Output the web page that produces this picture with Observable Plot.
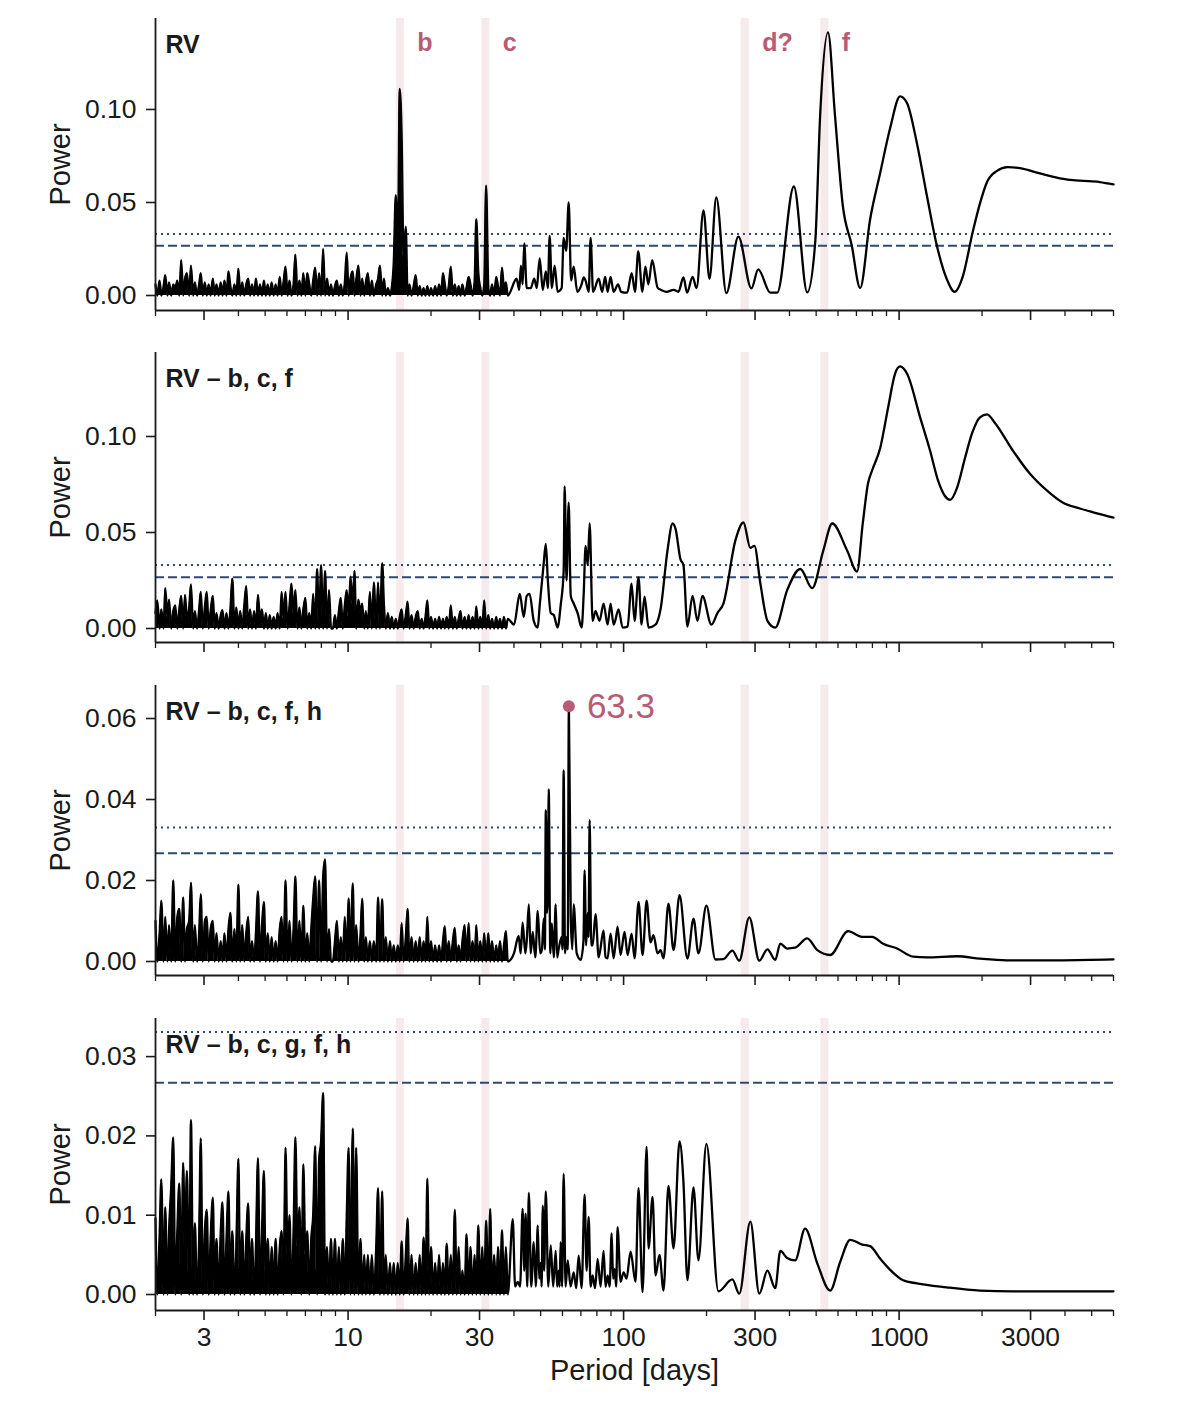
<!DOCTYPE html>
<html><head><meta charset="utf-8">
<script src="https://cdn.jsdelivr.net/npm/d3@7"></script>
<script src="https://cdn.jsdelivr.net/npm/@observablehq/plot@0.6"></script>
<style>
body{margin:0;background:#fff;}
#chart svg{display:block;}
</style></head><body><div id="chart"></div>
<script>
// ---------- DATA ----------
// shared period grid (days) for the dense short-period part of every periodogram
const noisePeriods = [
 2.00,2.03,2.07,2.10,2.14,2.17,2.21,2.24,2.28,2.32,
 2.36,2.40,2.44,2.48,2.52,2.56,2.60,2.65,2.69,2.74,
 2.78,2.83,2.88,2.92,2.97,3.02,3.07,3.12,3.17,3.23,
 3.28,3.33,3.39,3.45,3.50,3.56,3.62,3.68,3.74,3.80,
 3.87,3.93,4.00,4.06,4.13,4.20,4.27,4.34,4.41,4.48,
 4.56,4.63,4.71,4.79,4.87,4.95,5.03,5.11,5.20,5.28,
 5.37,5.46,5.55,5.65,5.74,5.83,5.93,6.03,6.13,6.23,
 6.34,6.44,6.55,6.66,6.77,6.88,7.00,7.11,7.23,7.35,
 7.47,7.60,7.72,7.85,7.98,8.12,8.25,8.39,8.53,8.67,
 8.81,8.96,9.11,9.26,9.41,9.57,9.73,9.89,10.05,10.2,
 10.4,10.55,10.7,10.9,11.1,11.25,11.45,11.6,11.8,12.0,
 12.2,12.4,12.65,12.85,13.05,13.3,13.5,13.7,13.95,14.2,
 14.4,14.65,14.9,15.15,15.4,15.65,15.9,16.2,16.45,16.7,
 17.0,17.3,17.6,17.9,18.2,18.5,18.8,19.1,19.4,19.7,
 20.0,20.35,20.7,21.05,21.4,21.75,22.1,22.45,22.8,23.2,
 23.6,24.0,24.4,24.8,25.2,25.6,26.0,26.5,26.9,27.4,
 27.8,28.3,28.8,29.2,29.7,30.2,30.7,31.2,31.7,32.3,
 32.8,33.3,33.9,34.5,35.0,35.6,36.2,36.8,37.4,38.0
];

// Panel 1: RV
const rvNoise = [
 .006,0,.008,0,.005,.011,0,.007,0,.006,
 .004,.008,0,.019,0,.009,.012,0,.016,0,
 .007,0,.006,.012,0,.007,0,.006,0,.009,
 0,.006,0,.007,0,.008,0,.013,.005,0,
 .006,0,.0145,0,.007,0,.006,.009,0,.006,
 0,.009,0,.006,0,.008,0,.006,0,.007,
 0,.006,0,.010,0,.007,.0155,0,.008,0,
 .006,.022,0,.008,0,.012,0,.012,.006,0,
 .008,.015,0,.012,0,.025,0,.009,0,.006,
 0,.005,.008,0,.006,0,.007,.023,0,.009,
 .013,0,.008,.016,0,.009,0,.007,.012,0,
 .008,0,.006,.009,.016,0,.009,0,.004,0,
 .004,.018,.054,.020,.111,.085,.020,.037,0,.006,
 0,.005,.011,0,.005,0,.004,0,.005,0,
 .004,0,.005,0,.006,0,.012,.006,0,.005,
 .0155,0,.006,0,.005,0,.006,0,.004,.010,
 .006,0,.008,.041,.012,.004,0,.006,.059,.004,
 0,.006,0,.010,.005,0,.015,.004,.007,0
];
const rvTail = [
 [40.9,.009],[41.8,.003],[42.4,.016],[43.0,.006],[43.6,.028],[44.5,.004],[46.0,.004],[47.4,.009],
 [48.4,.004],[49.6,.020],[50.9,.003],[52.2,.013],[53.1,.004],[53.9,.032],[54.9,.004],[56.2,.016],
 [57.6,.002],[59.6,.004],[60.6,.031],[61.9,.024],[63.2,.050],[64.5,.008],[65.9,.0155],[67.9,.002],
 [70.4,.006],[71.6,.0097],[72.8,.008],[74.7,.002],[75.9,.031],[77.5,.002],[81.2,.009],[83.6,.002],
 [85.7,.010],[87.5,.002],[89.7,.010],[92.0,.002],[95.5,.006],[97.9,.002],[103,.0015],[107,.012],
 [110,.002],[113,.0237],[117,.002],[120,.0155],[123,.006],[127,.019],[133,.004],[137,.003],
 [143,.002],[152,.003],[158,.002],[165,.0097],[170,.0015],[178,.010],[184,.004],[195,.0457],
 [205,.009],[217,.0527],[236,.0013],[261,.0317],[291,.0038],[308,.014],[341,.0015],[361,.0015],
 [415,.0586],[464,.0017],[496,.0285],[517,.097],[552,.1414],[585,.097],[625,.048],[673,.027],
 [722,.004],[785,.041],[854,.066],[928,.090],[1008,.107],[1068,.1035],[1160,.082],[1260,.054],
 [1370,.027],[1488,.009],[1591,.002],[1701,.010],[1849,.034],[1966,.0495],[2085,.061],[2265,.067],
 [2473,.069],[2745,.0685],[3243,.0656],[3831,.063],[4527,.0617],[5348,.061],[6000,.0597]
];

// Panel 2: RV - b, c, f
const bcfNoise = [
 .008,.0146,0,.010,0,.021,.006,.015,0,.009,
 .012,0,.010,.017,0,.0175,.005,.011,.023,0,
 .009,0,.010,.019,0,.011,.019,0,.009,.017,
 0,.008,0,.007,.0095,0,.008,0,.010,.026,
 0,.011,0,.009,0,.012,.022,0,.010,0,
 .009,0,.0175,.005,.010,0,.008,0,.007,0,
 .006,0,.008,0,.019,.005,.019,0,.012,.0234,
 .008,.020,0,.011,0,.010,.016,0,.008,0,
 .018,0,.031,0,.033,0,.030,0,.020,0,
 0,.007,0,.009,.016,0,.012,.020,.006,.027,
 .012,.030,0,.015,.008,.013,0,.009,0,.019,
 0,.024,0,.024,0,.034,.012,0,.008,0,
 .006,0,.005,0,.006,.010,0,.007,.014,0,
 .007,0,.006,.009,0,.005,0,.006,.0146,0,
 .006,0,.005,0,.006,0,.005,0,.006,0,
 .012,0,.006,0,.005,.009,0,.006,0,.007,
 0,.006,0,.0115,0,.006,0,.0146,0,.007,
 0,.005,0,.006,0,.005,0,.006,0,.005
];
const bcfTail = [
 [40.0,.002],[42.0,.018],[43.4,.006],[44.5,.017],[45.6,.018],[47.2,.004],[48.8,.0005],[49.6,.012],
 [51.3,.034],[52.2,.044],[53.1,.025],[54.4,.008],[55.8,.007],[57.6,.0005],[59.1,.012],[60.6,.030],
 [61.1,.074],[62.1,.025],[63.2,.0656],[64.3,.017],[65.9,.013],[68.1,.008],[70.4,.0005],[71.6,.017],
 [72.8,.043],[74.1,.033],[75.3,.0547],[77.2,.004],[79.1,.009],[81.8,.004],[84.6,.013],[87.5,.002],
 [89.7,.013],[92.0,.002],[95.9,.010],[99.2,.0005],[103.4,.001],[106.9,.0234],[109.6,.004],[113.3,.0266],
 [116.2,.002],[119.1,.0166],[123.2,.0005],[130.6,.002],[136.2,.010],[144.3,.0406],[150.6,.0547],[154.3,.052],
 [160.9,.036],[164.9,.033],[170.5,.001],[178.0,.017],[185.4,.004],[193.2,.017],[208.4,.002],[219.0,.008],
 [230.3,.013],[254.7,.046],[272.3,.0552],[288.5,.042],[298.4,.043],[313.7,.0234],[332.7,.004],[355.1,.0005],
 [392.4,.020],[438,.031],[483.7,.021],[530.6,.0406],[571.9,.0547],[647.6,.0406],[703.7,.0297],[738,.0547],
 [771,.0755],[798,.0823],[854,.094],[912,.115],[967,.1328],[1008,.1365],[1068,.1328],[1192,.110],
 [1295,.0927],[1385,.077],[1467,.069],[1531,.067],[1624,.0734],[1736,.089],[1843,.102],[1966,.110],
 [2085,.1115],[2228,.107],[2586,.0927],[2980,.0807],[3435,.0719],[3923,.0656],[4527,.0625],[5223,.060],
 [6000,.0578]
];

// Panel 3: RV - b, c, f, h
const bcfhNoise = [
 .010,0,.007,.015,0,.011,0,.009,0,.020,
 0,.011,.013,0,.0158,0,.008,.010,.0195,0,
 .009,0,.007,.0166,0,.010,.011,0,.008,.010,
 0,.007,0,.005,0,.007,0,.008,.012,0,
 .008,0,.019,0,.009,0,.007,.011,0,.005,
 0,.007,.0173,0,.009,.0147,0,.007,0,.006,
 0,.005,0,.008,.011,0,.020,0,.010,0,
 .008,.021,0,.010,0,.0137,0,.007,0,.008,
 .0155,.021,0,.020,0,.021,.0252,0,.008,0,
 0,.005,.010,0,.006,0,.011,0,.0156,0,
 .0193,0,.009,0,.007,.0155,0,.006,0,.005,
 0,.005,0,.0158,0,.0154,0,.006,0,.005,
 0,.004,0,.004,0,.0095,0,.006,.013,0,
 .006,0,.005,0,.006,0,.005,0,.011,0,
 .005,0,.004,0,.004,0,.005,.0087,0,.005,
 0,.005,.0083,0,.004,0,.005,.009,0,.0095,
 0,.005,0,.009,0,.005,0,.007,0,.007,
 0,.005,0,.004,0,.005,0,.004,.0075,0
];
const bcfhTail = [
 [40.0,.002],[41.6,.0063],[42.3,.002],[43.0,.0096],[44.0,.002],[44.5,.005],[45.3,.0141],[46.0,.002],
 [46.8,.0073],[47.8,.001],[48.8,.0125],[49.8,.002],[50.5,.0028],[51.3,.0106],[51.8,.003],[52.2,.0374],
 [52.7,.012],[53.1,.016],[53.5,.0425],[54.2,.002],[54.9,.0094],[55.8,.001],[56.7,.0141],[57.4,.001],
 [58.1,.003],[59.6,.0061],[60.0,.003],[60.6,.0472],[61.3,.002],[62.1,.006],[62.7,.003],[63.3,.063],
 [64.3,.011],[65.1,.003],[65.9,.0141],[67.6,.002],[69.9,.0004],[71.5,.005],[72.2,.0225],[73.1,.004],
 [74.1,.012],[74.6,.006],[75.3,.0349],[76.3,.004],[77.2,.004],[79.1,.0117],[81.2,.001],[84.6,.0077],
 [86.0,.001],[87.5,.0008],[89.7,.0069],[92.0,.0008],[95.1,.0086],[97.5,.0016],[100.8,.0073],[103.4,.0016],
 [106.9,.0069],[109.6,.0008],[113.3,.0147],[117.2,.0016],[121.2,.015],[125.3,.0047],[128.4,.0065],[132.8,.002],
 [136.2,.0028],[139.6,.0008],[145.5,.0143],[151.8,.0028],[159.6,.0164],[170.5,.0007],[179.4,.0106],[186.9,.002],
 [199.8,.0138],[215.5,.0005],[230.3,.0006],[248.1,.0027],[262.9,.0002],[285.9,.0109],[310.8,.0002],[332.7,.003],
 [355.1,.0004],[370.6,.0044],[392.4,.0032],[419.4,.0034],[464,.0057],[505,.0028],[562,.0016],[653,.0075],
 [734,.0061],[798,.0061],[875,.0044],[983,.0032],[1124,.0012],[1260,.001],[1624,.0013],[1966,.0007],
 [2458,.0003],[3923,.0003],[6000,.0005]
];

// Panel 4: RV - b, c, g, f, h
const bcgfhNoise = [
 .0096,0,.0075,.0145,0,.011,0,.008,.0135,.0198,
 0,.008,.014,0,.0166,.006,.0156,0,.022,0,
 .009,0,.007,.0197,0,.008,.0107,0,.007,.0122,
 0,.007,0,.008,.0116,0,.007,.013,0,.008,
 0,.006,.0171,0,.008,0,.007,.0115,0,.007,
 0,.006,.0172,0,.008,.0156,0,.007,0,.006,
 0,.007,0,.006,.008,0,.0185,.005,.010,0,
 .008,.0198,.006,.011,0,.0164,.005,.008,0,.007,
 .010,.0187,0,.017,.0193,.0254,0,.006,0,.007,
 0,.007,0,.006,0,.007,0,.010,.0185,0,
 .0209,0,.0185,0,.007,0,.005,0,.005,0,
 .005,0,.006,.0134,0,.013,0,.005,0,.004,
 0,.004,0,.004,0,.0067,0,.005,.0096,0,
 .005,0,.004,0,.005,0,.0072,0,.0146,0,
 .006,0,.004,0,.005,0,.004,0,.0064,0,
 .005,0,.0107,0,.006,0,.003,0,.0076,0,
 .006,0,.005,0,.0087,0,.006,0,.0093,0,
 .0108,0,.005,0,.006,0,.0081,0,.006,0
];
const bcgfhTail = [
 [39.6,.0095],[40.4,.001],[41.3,.0016],[42.1,.001],[43.0,.0108],[43.6,.003],[44.1,.0102],[44.7,.001],
 [45.3,.0128],[46.2,.001],[47.2,.0066],[48.0,.001],[48.8,.0087],[49.4,.002],[50.0,.004],[50.4,.001],
 [50.9,.0112],[51.5,.003],[52.2,.013],[53.3,.001],[54.4,.0062],[55.5,.001],[56.7,.0055],[57.4,.001],
 [58.1,.003],[58.6,.001],[59.1,.0066],[59.8,.001],[60.6,.0152],[61.6,.001],[62.7,.0043],[64.2,.001],
 [65.9,.0028],[67.3,.0008],[68.7,.0049],[70.4,.0008],[72.2,.0126],[73.4,.003],[74.7,.0098],[75.9,.001],
 [77.2,.0024],[78.8,.0008],[80.5,.0045],[82.5,.001],[84.6,.0055],[86.0,.001],[87.5,.0024],[89.0,.001],
 [90.5,.0077],[91.6,.002],[92.8,.0032],[94.0,.001],[95.1,.0085],[97.5,.0016],[100,.0028],[102.5,.002],
 [106.0,.0054],[110.5,.0016],[113.3,.0134],[117.2,.0003],[121.2,.0186],[123.2,.0058],[127.4,.0123],[130.6,.0024],
 [135.0,.005],[139.6,.0005],[145.5,.0137],[151.8,.0058],[159.6,.0193],[164.9,.0142],[170.5,.0018],[179.4,.0135],
 [186.9,.0043],[199.8,.019],[220.9,.0004],[248.1,.0019],[262.9,.0001],[288.5,.0092],[310.8,.0001],[332.7,.003],
 [355.1,.0008],[370.6,.0055],[392.4,.0046],[419.4,.0043],[455.8,.0083],[505,.0039],[562,.0005],[611,.0041],
 [664.5,.0069],[734,.0063],[785,.0061],[854,.0045],[928,.0031],[1034,.0018],[1160,.0014],[1488,.0009],
 [1966,.0005],[2586,.0004],[6000,.0004]
];

const panelLabels = ["RV", "RV \u2013 b, c, f", "RV \u2013 b, c, f, h", "RV \u2013 b, c, g, f, h"];
const bandNames = ["b", "c", "d?", "f"];
const bandLo = [15.0, 30.6, 267, 520];
const bandHi = [16.0, 32.7, 286, 556];
const fapDotted = 0.0331;
const fapDashed = 0.0267;
const peakPeriod = 63.3;
const peakPower = 0.063;
const majorTicks = [3, 10, 30, 100, 300, 1000, 3000];
const minorTicks = [2,4,5,6,7,8,9,20,40,50,60,70,80,90,200,400,500,600,700,800,900,2000,4000,5000,6000];
const yTicksByPanel = [[0, 0.05, 0.10], [0, 0.05, 0.10], [0, 0.02, 0.04, 0.06], [0, 0.01, 0.02, 0.03]];

// ---------- LAYOUT / STYLE ----------
const PINK = "#b85c74";
const NAVY = "#2f4a6c";
const INK = "#1a1a1a";
const FONT = "'Liberation Sans', Arial, Helvetica, sans-serif";
const layout = [
  {height: 332, marginTop: 18, marginBottom: 22, yDomain: [-0.00806, 0.1489]},
  {height: 333, marginTop: 20, marginBottom: 23, yDomain: [-0.00729, 0.14375]},
  {height: 333, marginTop: 20, marginBottom: 23, yDomain: [-0.003457, 0.06815]},
  {height: 424, marginTop: 20, marginBottom: 112, yDomain: [-0.002018, 0.034805]}
];

const bands = bandNames.map((name, i) => ({name, x1: bandLo[i], x2: bandHi[i]}));
const panels = [
  {label: panelLabels[0], noise: rvNoise, tail: rvTail},
  {label: panelLabels[1], noise: bcfNoise, tail: bcfTail},
  {label: panelLabels[2], noise: bcfhNoise, tail: bcfhTail, peak: true},
  {label: panelLabels[3], noise: bcgfhNoise, tail: bcgfhTail}
];

const chart = document.getElementById("chart");
panels.forEach((cfg, i) => {
  const L = layout[i];
  const last = i === panels.length - 1;
  const dense = noisePeriods.map((p, k) => ({period: p, power: cfg.noise[k]}));
  const series = dense.concat(cfg.tail.map(([p, v]) => ({period: p, power: v})));
  const marks = [
    Plot.rect(bands, {x1: "x1", x2: "x2", fill: PINK, fillOpacity: 0.13}),
    Plot.ruleY([fapDotted], {stroke: NAVY, strokeWidth: 2, strokeDasharray: "2,4"}),
    Plot.ruleY([fapDashed], {stroke: NAVY, strokeWidth: 2, strokeDasharray: "9,4"}),
    // the unresolved short-period forest is overplotted into solid ink in the original
    Plot.areaY(dense, {x: "period", y: "power", fill: "#000", curve: "monotone-x"}),
    Plot.line(series, {x: "period", y: "power", stroke: "#000", strokeWidth: 2.3, curve: "monotone-x"}),
    Plot.axisY(yTicksByPanel[i], {anchor: "left", tickSize: 9, tickPadding: 10, tickFormat: d3.format(".2f"),
      stroke: INK, fill: INK, strokeWidth: 1.6, fontSize: 26.5, label: null}),
    Plot.axisX(minorTicks, {anchor: "bottom", tickSize: 6, stroke: INK, strokeWidth: 1.3, fill: "none", label: null}),
    last
      ? Plot.axisX(majorTicks, {anchor: "bottom", tickSize: 10, tickPadding: 7, tickFormat: d => String(d),
          stroke: INK, fill: INK, strokeWidth: 1.6, fontSize: 26.5, label: null})
      : Plot.axisX(majorTicks, {anchor: "bottom", tickSize: 10, stroke: INK, strokeWidth: 1.6, fill: "none", label: null}),
    Plot.ruleX([2], {stroke: INK, strokeWidth: 1.8}),
    Plot.ruleY([L.yDomain[0]], {stroke: INK, strokeWidth: 1.8}),
    Plot.text([cfg.label], {text: d => d, frameAnchor: "top-left", dx: 10, dy: 26, textAnchor: "start",
      lineAnchor: "middle", fontWeight: "bold", fontSize: 25, fill: INK}),
    Plot.text(["Power"], {text: d => d, frameAnchor: "left", rotate: -90, dx: -95, textAnchor: "middle",
      lineAnchor: "middle", fontSize: 29, fill: INK})
  ];
  if (i === 0) {
    marks.push(Plot.text(bands, {x: "x2", text: "name", frameAnchor: "top", dx: 13, dy: 24, textAnchor: "start",
      lineAnchor: "middle", fontWeight: "bold", fontSize: 25, fill: PINK}));
  }
  if (cfg.peak) {
    const pk = [{period: peakPeriod, power: peakPower, label: String(peakPeriod)}];
    marks.push(Plot.dot(pk, {x: "period", y: "power", r: 6, fill: PINK, stroke: "none"}));
    marks.push(Plot.text(pk, {x: "period", y: "power", text: "label", dx: 18, textAnchor: "start",
      lineAnchor: "middle", fontSize: 35, fill: PINK}));
  }
  if (last) {
    marks.push(Plot.text(["Period [days]"], {text: d => d, frameAnchor: "bottom", dy: 60, lineAnchor: "middle",
      fontSize: 29, fill: INK}));
  }
  const svg = Plot.plot({
    width: 1200, height: L.height,
    marginLeft: 155, marginRight: 87, marginTop: L.marginTop, marginBottom: L.marginBottom,
    style: {fontFamily: FONT, fontSize: "26px", color: INK, background: "#fff", overflow: "visible"},
    x: {type: "log", domain: [2, 6000]},
    y: {domain: L.yDomain},
    marks
  });
  chart.appendChild(svg);
});
</script></body></html>
